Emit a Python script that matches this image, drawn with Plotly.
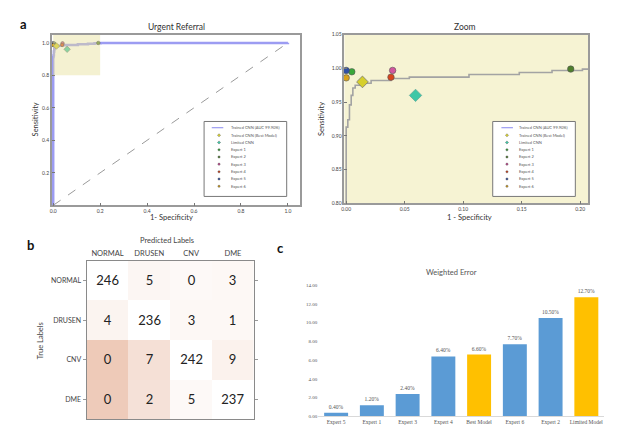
import plotly.graph_objects as go

W, H = 640, 440

# ---------------- data ----------------
roc_fpr = [0.0, 0.0, 0.0014, 0.0028, 0.0043, 0.0057, 0.0077, 0.0142, 0.0213, 0.0383, 0.054, 0.105, 0.148, 0.176, 0.202, 1.0]
roc_tpr = [0.0, 0.913, 0.924, 0.946, 0.960, 0.971, 0.975, 0.978, 0.982, 0.985, 0.987, 0.991, 0.994, 0.997, 0.999, 1.0]

expert_names = ["Expert 1", "Expert 2", "Expert 3", "Expert 4", "Expert 5", "Expert 6"]
expert_fpr = [0.0048, 0.192, 0.0397, 0.0383, 0.0, 0.0]
expert_tpr = [0.995, 0.999, 0.997, 0.987, 0.997, 0.986]
expert_colors = ["#3aa83a", "#4f7f2c", "#d2559e", "#d8441c", "#2f4fa6", "#d9a31c"]

best_fpr, best_tpr = [0.0139], [0.980]
limited_fpr, limited_tpr = [0.0593], [0.960]

legend_labels = ["Trained CNN (AUC 99.90%)", "Trained CNN (Best Model)", "Limited CNN"] + expert_names

cm_pred = ["NORMAL", "DRUSEN", "CNV", "DME"]
cm_true = ["NORMAL", "DRUSEN", "CNV", "DME"]
cm_counts = [[246, 5, 0, 3],
             [4, 236, 3, 1],
             [0, 7, 242, 9],
             [0, 2, 5, 237]]
cm_shade = [[0.0, 0.12, 0.08, 0.10],
            [0.15, 0.0, 0.10, 0.10],
            [0.72, 0.42, 0.0, 0.18],
            [0.70, 0.40, 0.08, 0.0]]

bar_labels = ["Expert 5", "Expert 1", "Expert 3", "Expert 4", "Best Model", "Expert 6", "Expert 2", "Limited Model"]
bar_values = [0.40, 1.20, 2.40, 6.40, 6.60, 7.70, 10.50, 12.70]
bar_is_model = [False, False, False, False, True, False, False, True]

# ---------------- helpers ----------------
def px(x):
    return x / W

def py(y):
    return 1 - y / H

LAV = "#9c9cf2"
BEST_C = "#d6cf2c"
LIM_C = "#3fc7a6"
SANS = "Lato"
SERIF = "Liberation Serif"

fig = go.Figure()

# ---------- panel a (left): Urgent Referral ----------
fig.add_trace(go.Scatter(x=[0, 1], y=[0, 1], mode="lines", xaxis="x", yaxis="y",
                         line=dict(color="#9a9a9a", width=1, dash="dash"), showlegend=False, hoverinfo="skip"))
fig.add_trace(go.Scatter(x=roc_fpr, y=roc_tpr, mode="lines", line_shape="hv", xaxis="x", yaxis="y",
                         line=dict(color=LAV, width=2.5), showlegend=False))
for i in range(len(expert_names)):
    fig.add_trace(go.Scatter(x=[expert_fpr[i]], y=[expert_tpr[i]], mode="markers", xaxis="x", yaxis="y",
                             marker=dict(color=expert_colors[i], size=3.5, line=dict(color="#222", width=0.5)),
                             showlegend=False, cliponaxis=False))
fig.add_trace(go.Scatter(x=best_fpr, y=best_tpr, mode="markers", xaxis="x", yaxis="y",
                         marker=dict(symbol="diamond", color=BEST_C, size=5, line=dict(color="#555", width=0.5)),
                         showlegend=False, cliponaxis=False))
fig.add_trace(go.Scatter(x=limited_fpr, y=limited_tpr, mode="markers", xaxis="x", yaxis="y",
                         marker=dict(symbol="diamond", color=LIM_C, size=5, line=dict(color="#555", width=0.5)),
                         showlegend=False, cliponaxis=False))

# ---------- panel a (right): Zoom ----------
fig.add_trace(go.Scatter(x=roc_fpr, y=roc_tpr, mode="lines", line_shape="hv", xaxis="x2", yaxis="y2",
                         line=dict(color="#a3a3a3", width=1.6), showlegend=False))
for i in range(len(expert_names)):
    fig.add_trace(go.Scatter(x=[expert_fpr[i]], y=[expert_tpr[i]], mode="markers", xaxis="x2", yaxis="y2",
                             marker=dict(color=expert_colors[i], size=6.5, line=dict(color="#555", width=0.6)),
                             showlegend=False, cliponaxis=False))
fig.add_trace(go.Scatter(x=best_fpr, y=best_tpr, mode="markers", xaxis="x2", yaxis="y2",
                         marker=dict(symbol="diamond", color=BEST_C, size=9, line=dict(color="#777", width=0.8)),
                         showlegend=False, cliponaxis=False))
fig.add_trace(go.Scatter(x=limited_fpr, y=limited_tpr, mode="markers", xaxis="x2", yaxis="y2",
                         marker=dict(symbol="diamond", color=LIM_C, size=9.5, line=dict(color="#6a9", width=0.8)),
                         showlegend=False, cliponaxis=False))

# ---------- panel b: confusion matrix ----------
fig.add_trace(go.Heatmap(z=cm_shade, x=cm_pred, y=cm_true, text=cm_counts, texttemplate="%{text}",
                         textfont=dict(size=13, color="#222", family=SANS),
                         colorscale=[[0, "#ffffff"], [1, "#e7b59d"]], zmin=0, zmax=1,
                         showscale=False, xaxis="x3", yaxis="y3", hoverinfo="skip"))

# ---------- panel c: weighted error ----------
fig.add_trace(go.Bar(x=bar_labels, y=bar_values, xaxis="x4", yaxis="y4",
                     marker=dict(color=["#ffc000" if m else "#5b9bd5" for m in bar_is_model], line=dict(width=0)),
                     width=0.67, text=[f"{v:.2f}%" for v in bar_values], textposition="outside",
                     textfont=dict(size=5.5, color="#555", family=SERIF), cliponaxis=False,
                     showlegend=False))

# ---------------- axes ----------------
frame = dict(showline=True, mirror=True, linecolor="#9a9a9a", linewidth=1.5, showgrid=False, zeroline=False,
             ticks="inside", ticklen=3, tickcolor="#777", tickfont=dict(size=5, color="#444", family=SANS))

fig.update_layout(
    width=W, height=H, margin=dict(l=0, r=0, t=0, b=0),
    paper_bgcolor="white", plot_bgcolor="white", showlegend=False,
    xaxis=dict(domain=[px(41), px(290)], range=[-0.006, 1.05], anchor="y",
               tickvals=[0, 0.2, 0.4, 0.6, 0.8, 1.0], tickformat=".1f", **frame),
    yaxis=dict(domain=[py(197), py(24)], range=[0, 1.05], anchor="x",
               tickvals=[0.2, 0.4, 0.6, 0.8, 1.0], tickformat=".1f", **frame),
    xaxis2=dict(domain=[px(335), px(580)], range=[-0.0015, 0.207], anchor="y2",
                tickvals=[0, 0.05, 0.10, 0.15, 0.20], tickformat=".2f", **frame),
    yaxis2=dict(domain=[py(195), py(24)], range=[0.80, 1.05], anchor="x2",
                tickvals=[0.80, 0.85, 0.90, 0.95, 1.00, 1.05], tickformat=".2f", **frame),
    xaxis3=dict(domain=[px(76), px(244)], anchor="y3", side="top", showline=True, mirror=True,
                linecolor="#8a8a8a", linewidth=1.2, ticks="", showgrid=False, zeroline=False,
                tickfont=dict(size=7.5, color="#444", family=SANS)),
    yaxis3=dict(domain=[py(414), py(253)], anchor="x3", autorange="reversed", showline=True, mirror="ticks",
                linecolor="#8a8a8a", linewidth=1.2, ticks="outside", ticklen=3, tickcolor="#999",
                showgrid=False, zeroline=False, tickfont=dict(size=7, color="#444", family=SANS)),
    xaxis4=dict(domain=[px(308.7), px(596)], anchor="y4", showline=True, linecolor="#d9d9d9", linewidth=1,
                ticks="", showgrid=False, zeroline=False, range=[-0.5, 7.5],
                tickfont=dict(size=5.5, color="#555", family=SERIF)),
    yaxis4=dict(domain=[py(411), py(276)], anchor="x4", range=[0, 14.2], tickvals=[0, 2, 4, 6, 8, 10, 12, 14],
                ticksuffix="%", tickformat=".2f", showline=False, showgrid=False, zeroline=False, ticks="",
                tickfont=dict(size=5, color="#555", family=SERIF)),
)

shapes = []
# highlight rectangle on the full ROC (translucent, above the curve)
shapes.append(dict(type="rect", xref="x", yref="y", x0=0, x1=0.2, y0=0.8, y1=1.05, layer="above",
                   fillcolor="#e6e09a", opacity=0.45, line=dict(width=0)))
# zoom panel background
shapes.append(dict(type="rect", xref="x2 domain", yref="y2 domain", x0=0, x1=1, y0=0, y1=1, layer="below",
                   fillcolor="#f6f3d3", line=dict(width=0)))

annotations = []

def ann(x, y, text, size, color="#333", family=SANS, angle=0, xanchor="center", bold=False):
    t = f"<b>{text}</b>" if bold else text
    annotations.append(dict(x=px(x), y=py(y), xref="paper", yref="paper", text=t, showarrow=False,
                            font=dict(size=size, color=color, family=family), textangle=angle,
                            xanchor=xanchor, yanchor="middle"))

# manual legends (decorations)
marker_colors = [None, BEST_C, LIM_C] + expert_colors
rows = [118.3, 126, 133.3, 140.7, 148, 155.3, 163, 170.3, 177.7]

def add_legend(bx0, bx1, by0, by1, lx0, lx1, mx, tx):
    shapes.append(dict(type="rect", xref="paper", yref="paper", x0=px(bx0), x1=px(bx1), y0=py(by1), y1=py(by0),
                       fillcolor="white", line=dict(color="#777", width=1), layer="above"))
    for i, (lab, yy) in enumerate(zip(legend_labels, rows)):
        if i == 0:
            shapes.append(dict(type="line", xref="paper", yref="paper", x0=px(lx0), x1=px(lx1), y0=py(yy), y1=py(yy),
                               line=dict(color=LAV, width=1.2), layer="above"))
        elif i in (1, 2):
            r = 1.6
            path = (f"M {px(mx)},{py(yy - r)} L {px(mx + r)},{py(yy)} L {px(mx)},{py(yy + r)} "
                    f"L {px(mx - r)},{py(yy)} Z")
            shapes.append(dict(type="path", xref="paper", yref="paper", path=path,
                               fillcolor=marker_colors[i], line=dict(color="#555", width=0.4), layer="above"))
        else:
            r = 1.1
            shapes.append(dict(type="circle", xref="paper", yref="paper", x0=px(mx - r), x1=px(mx + r),
                               y0=py(yy + r), y1=py(yy - r), fillcolor=marker_colors[i],
                               line=dict(color="#333", width=0.4), layer="above"))
        ann(tx, yy, lab, 4, color="#555", xanchor="left")

add_legend(194, 277, 112, 188, 201.7, 213.3, 209, 219)
add_legend(484, 567, 112, 188, 492.7, 504.3, 498.3, 508.5)

# titles and labels
ann(13, 13, "a", 13, color="#111", bold=True)
ann(166, 16, "Urgent Referral", 8.5)
ann(161, 209, "1- Specificity", 7.5)
ann(25, 110, "Sensitivity", 7.5, angle=-90)
ann(456, 16, "Zoom", 8.5)
ann(461, 209, "1 - Specificity", 7.5)
ann(312, 110, "Sensitivity", 7.5, angle=-90)

ann(20, 237, "b", 13, color="#111", bold=True)
ann(157, 233, "Predicted Labels", 7.5, color="#444")
ann(30, 334, "True Labels", 7.5, color="#444", angle=-90)

ann(271, 240, "c", 13, color="#111", bold=True)
ann(443, 265, "Weighted Error", 7.5, color="#555")

fig.update_layout(shapes=shapes, annotations=annotations)

fig.write_html("out.html")
